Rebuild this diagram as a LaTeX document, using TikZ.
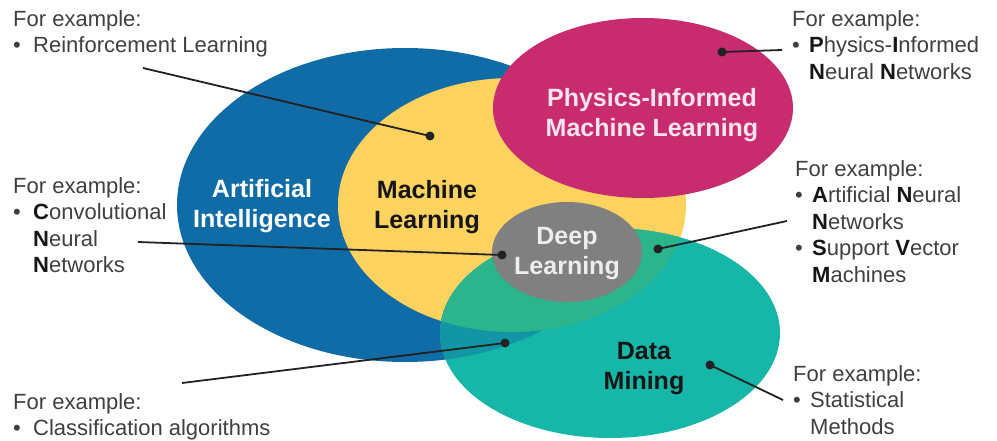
\documentclass[tikz,border=0pt]{standalone}
\usepackage{fontspec}
\setmainfont{Liberation Sans}
\usetikzlibrary{shapes.geometric}
\definecolor{aiblue}{RGB}{16,108,166}
\definecolor{mlyellow}{RGB}{253,210,95}
\definecolor{pimlmag}{RGB}{200,44,110}
\definecolor{dlgray}{RGB}{128,128,128}
\definecolor{dmteal}{RGB}{22,182,168}
\definecolor{dmonml}{RGB}{44,180,140}
\definecolor{dmonai}{RGB}{18,150,166}
\definecolor{anntext}{RGB}{64,64,64}
\definecolor{annbold}{RGB}{22,22,22}
\definecolor{linecol}{RGB}{34,34,34}
\definecolor{pimltext}{RGB}{252,228,238}
\newcommand{\ib}[1]{{\bfseries\color{annbold}#1}}
\newcommand{\bulL}{\makebox[20pt][l]{•}}
\newcommand{\indL}{\hspace*{20pt}}
\newcommand{\bulR}{\makebox[17pt][l]{•}}
\newcommand{\indR}{\hspace*{17pt}}
\begin{document}
\begin{tikzpicture}[x=1pt,y=-1pt,
  venn/.style={ellipse,inner sep=0pt,draw=none},
  ann/.style={anchor=north west,inner sep=0pt,align=left,text=anntext,
    font=\fontsize{22}{26.5}\selectfont},
  lbl/.style={inner sep=0pt,align=center,font=\fontsize{25}{30}\selectfont\bfseries},
  dot/.style={circle,fill=linecol,inner sep=0pt,minimum size=9pt},
  conn/.style={draw=linecol,line width=1.8pt}]
\useasboundingbox (0,0) rectangle (997,441);
\fill[white] (0,0) rectangle (997,441);
% ellipses
\node[venn,fill=aiblue,minimum width=456pt,minimum height=314pt] (ai) at (405,205) {};
\node[venn,fill=mlyellow,minimum width=348pt,minimum height=254pt] (ml) at (512,205) {};
\node[venn,fill=pimlmag,minimum width=300pt,minimum height=180pt] (piml) at (643,108) {};
\node[venn,fill=dmteal,minimum width=340pt,minimum height=210pt] (dm) at (610,333) {};
% overlaps of data mining with AI and ML
\begin{scope}
  \clip (610,333) ellipse [x radius=170pt, y radius=105pt];
  \fill[dmonai] (405,205) ellipse [x radius=228pt, y radius=157pt];
  \fill[dmonml] (512,205) ellipse [x radius=174pt, y radius=127pt];
\end{scope}
\node[venn,fill=dlgray,minimum width=150pt,minimum height=100pt] (dl) at (567,252) {};
% labels
\node[lbl,text=white] (ailbl) at (262,206) {Artificial\\Intelligence};
\node[lbl,text=annbold] (mllbl) at (427,207) {Machine\\Learning};
\node[lbl,text=pimltext] (pimllbl) at (652,115) {Physics-Informed\\Machine Learning};
\node[lbl,text=black!7] (dllbl) at (567,254) {Deep\\Learning};
\node[lbl,text=annbold] (dmlbl) at (644,369) {Data\\Mining};
% annotations
\node[ann] (a1) at (13,10) {For example:\\\bulL Reinforcement Learning};
\node[ann] (a2) at (13,177) {For example:\\\bulL\ib{C}onvolutional\\\indL\ib{N}eural\\\indL\ib{N}etworks};
\node[ann] (a3) at (13,393) {For example:\\\bulL Classification algorithms};
\node[ann] (a4) at (792,10) {For example:\\\bulR\ib{P}hysics-\ib{I}nformed\\\indR\ib{N}eural \ib{N}etworks};
\node[ann] (a5) at (795,160) {For example:\\\bulR\ib{A}rtificial \ib{N}eural\\\indR\ib{N}etworks\\\bulR\ib{S}upport \ib{V}ector\\\indR\ib{M}achines};
\node[ann] (a6) at (793,365) {For example:\\\bulR Statistical\\\indR Methods};
% connector ends and dots
\coordinate (e1) at (143,68);
\coordinate (e2) at (138,242);
\coordinate (e3) at (182,383);
\coordinate (e4) at (782,50);
\coordinate (e5) at (787,221);
\coordinate (e6) at (783,400);
\node[dot] (d1) at (430,136) {};
\node[dot] (d2) at (502,255) {};
\node[dot] (d3) at (505,343) {};
\node[dot] (d4) at (722,52) {};
\node[dot] (d5) at (658,249) {};
\node[dot] (d6) at (710,365) {};
\draw[conn] (e1) -- (d1.center);
\draw[conn] (e2) -- (d2.center);
\draw[conn] (e3) -- (d3.center);
\draw[conn] (d4.center) -- (e4);
\draw[conn] (d5.center) -- (e5);
\draw[conn] (d6.center) -- (e6);
\end{tikzpicture}
\end{document}
